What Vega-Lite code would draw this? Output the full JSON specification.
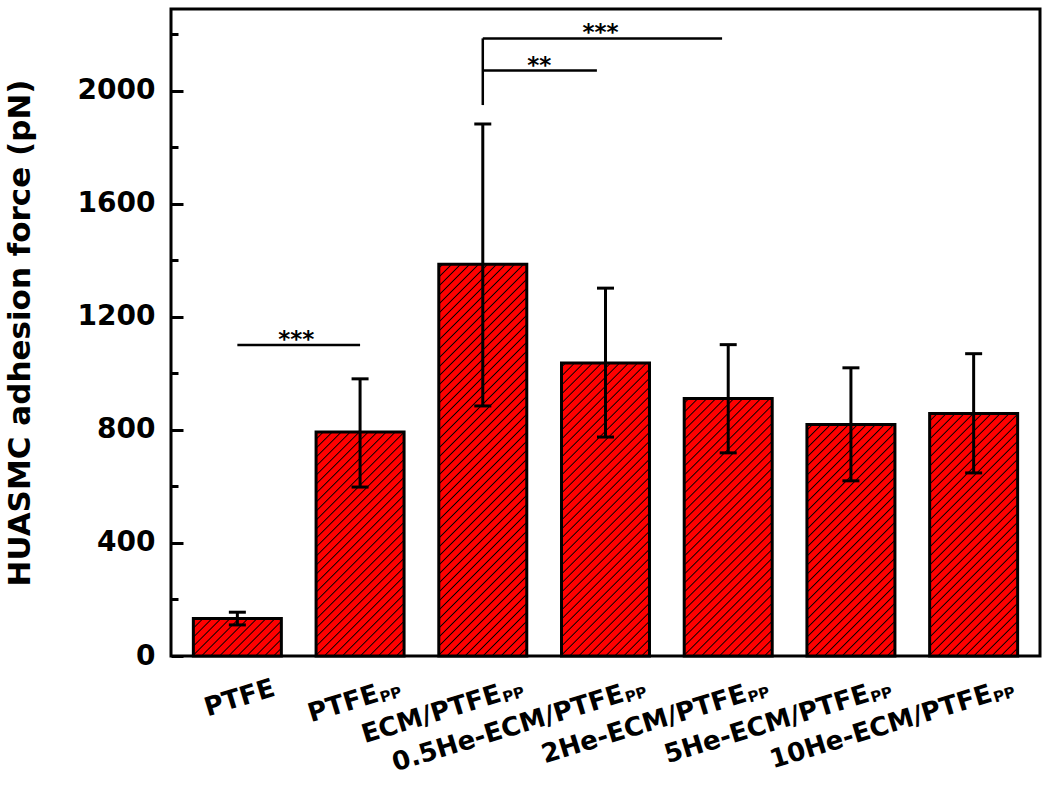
{
  "$schema": "https://vega.github.io/schema/vega-lite/v6.json",
  "width": 869,
  "height": 647,
  "autosize": {"type": "none"},
  "padding": {"left": 171, "top": 9, "right": 10, "bottom": 130},
  "background": "white",
  "config": {
    "view": {"stroke": "black", "strokeWidth": 3},
    "font": "DejaVu Sans"
  },
  "datasets": {
    "bars": [
      {"g": "PTFE", "sub": "", "i": 1, "m": 133, "lo": 110, "hi": 155},
      {"g": "PTFE", "sub": "PP", "i": 2, "m": 793, "lo": 598, "hi": 981},
      {"g": "ECM/PTFE", "sub": "PP", "i": 3, "m": 1387, "lo": 885, "hi": 1883},
      {"g": "0.5He-ECM/PTFE", "sub": "PP", "i": 4, "m": 1037, "lo": 775, "hi": 1302},
      {"g": "2He-ECM/PTFE", "sub": "PP", "i": 5, "m": 911, "lo": 719, "hi": 1102},
      {"g": "5He-ECM/PTFE", "sub": "PP", "i": 6, "m": 819, "lo": 620, "hi": 1020},
      {"g": "10He-ECM/PTFE", "sub": "PP", "i": 7, "m": 858, "lo": 648, "hi": 1070}
    ],
    "segs": [
      {"x": 1, "x2": 2, "y": 1101, "y2": 1101},
      {"x": 3, "x2": 3, "y": 1950, "y2": 2186},
      {"x": 3, "x2": 4.95, "y": 2186, "y2": 2186},
      {"x": 3, "x2": 3.93, "y": 2072, "y2": 2072}
    ],
    "stars": [
      {"x": 1.48, "y": 1101, "t": "***"},
      {"x": 3.96, "y": 2186, "t": "***"},
      {"x": 3.46, "y": 2072, "t": "**"}
    ]
  },
  "layer": [
    {
      "data": {"name": "bars"},
      "mark": {
        "type": "bar", "width": 88, "orient": "vertical", "strokeWidth": 0,
        "fill": {
          "gradient": "linear", "x1": 0, "y1": 0, "x2": 0.26802, "y2": 1.20458,
          "stops": [
            {"offset": 0, "color": "#f00"},
            {"offset": 0.0128, "color": "#f00"}, {"offset": 0.0154, "color": "#000"}, {"offset": 0.018, "color": "#f00"},
            {"offset": 0.0308, "color": "#f00"}, {"offset": 0.0334, "color": "#000"}, {"offset": 0.036, "color": "#f00"},
            {"offset": 0.0488, "color": "#f00"}, {"offset": 0.0514, "color": "#000"}, {"offset": 0.054, "color": "#f00"},
            {"offset": 0.0668, "color": "#f00"}, {"offset": 0.0694, "color": "#000"}, {"offset": 0.072, "color": "#f00"},
            {"offset": 0.0848, "color": "#f00"}, {"offset": 0.0874, "color": "#000"}, {"offset": 0.09, "color": "#f00"},
            {"offset": 0.1028, "color": "#f00"}, {"offset": 0.1054, "color": "#000"}, {"offset": 0.108, "color": "#f00"},
            {"offset": 0.1208, "color": "#f00"}, {"offset": 0.1234, "color": "#000"}, {"offset": 0.126, "color": "#f00"},
            {"offset": 0.1388, "color": "#f00"}, {"offset": 0.1414, "color": "#000"}, {"offset": 0.144, "color": "#f00"},
            {"offset": 0.1568, "color": "#f00"}, {"offset": 0.1594, "color": "#000"}, {"offset": 0.162, "color": "#f00"},
            {"offset": 0.1748, "color": "#f00"}, {"offset": 0.1774, "color": "#000"}, {"offset": 0.18, "color": "#f00"},
            {"offset": 0.1928, "color": "#f00"}, {"offset": 0.1954, "color": "#000"}, {"offset": 0.198, "color": "#f00"},
            {"offset": 0.2108, "color": "#f00"}, {"offset": 0.2134, "color": "#000"}, {"offset": 0.216, "color": "#f00"},
            {"offset": 0.2288, "color": "#f00"}, {"offset": 0.2314, "color": "#000"}, {"offset": 0.234, "color": "#f00"},
            {"offset": 0.2468, "color": "#f00"}, {"offset": 0.2494, "color": "#000"}, {"offset": 0.252, "color": "#f00"},
            {"offset": 0.2648, "color": "#f00"}, {"offset": 0.2674, "color": "#000"}, {"offset": 0.27, "color": "#f00"},
            {"offset": 0.2828, "color": "#f00"}, {"offset": 0.2854, "color": "#000"}, {"offset": 0.288, "color": "#f00"},
            {"offset": 0.3008, "color": "#f00"}, {"offset": 0.3034, "color": "#000"}, {"offset": 0.306, "color": "#f00"},
            {"offset": 0.3188, "color": "#f00"}, {"offset": 0.3214, "color": "#000"}, {"offset": 0.324, "color": "#f00"},
            {"offset": 0.3368, "color": "#f00"}, {"offset": 0.3394, "color": "#000"}, {"offset": 0.342, "color": "#f00"},
            {"offset": 0.3548, "color": "#f00"}, {"offset": 0.3574, "color": "#000"}, {"offset": 0.36, "color": "#f00"},
            {"offset": 0.3728, "color": "#f00"}, {"offset": 0.3754, "color": "#000"}, {"offset": 0.378, "color": "#f00"},
            {"offset": 0.3908, "color": "#f00"}, {"offset": 0.3934, "color": "#000"}, {"offset": 0.396, "color": "#f00"},
            {"offset": 0.4088, "color": "#f00"}, {"offset": 0.4114, "color": "#000"}, {"offset": 0.414, "color": "#f00"},
            {"offset": 0.4268, "color": "#f00"}, {"offset": 0.4294, "color": "#000"}, {"offset": 0.432, "color": "#f00"},
            {"offset": 0.4448, "color": "#f00"}, {"offset": 0.4474, "color": "#000"}, {"offset": 0.45, "color": "#f00"},
            {"offset": 0.4628, "color": "#f00"}, {"offset": 0.4654, "color": "#000"}, {"offset": 0.468, "color": "#f00"},
            {"offset": 0.4808, "color": "#f00"}, {"offset": 0.4834, "color": "#000"}, {"offset": 0.486, "color": "#f00"},
            {"offset": 0.4988, "color": "#f00"}, {"offset": 0.5014, "color": "#000"}, {"offset": 0.504, "color": "#f00"},
            {"offset": 0.5168, "color": "#f00"}, {"offset": 0.5194, "color": "#000"}, {"offset": 0.522, "color": "#f00"},
            {"offset": 0.5348, "color": "#f00"}, {"offset": 0.5374, "color": "#000"}, {"offset": 0.54, "color": "#f00"},
            {"offset": 0.5528, "color": "#f00"}, {"offset": 0.5554, "color": "#000"}, {"offset": 0.558, "color": "#f00"},
            {"offset": 0.5708, "color": "#f00"}, {"offset": 0.5734, "color": "#000"}, {"offset": 0.576, "color": "#f00"},
            {"offset": 0.5888, "color": "#f00"}, {"offset": 0.5914, "color": "#000"}, {"offset": 0.594, "color": "#f00"},
            {"offset": 0.6068, "color": "#f00"}, {"offset": 0.6094, "color": "#000"}, {"offset": 0.612, "color": "#f00"},
            {"offset": 0.6248, "color": "#f00"}, {"offset": 0.6274, "color": "#000"}, {"offset": 0.63, "color": "#f00"},
            {"offset": 0.6428, "color": "#f00"}, {"offset": 0.6454, "color": "#000"}, {"offset": 0.648, "color": "#f00"},
            {"offset": 0.6608, "color": "#f00"}, {"offset": 0.6634, "color": "#000"}, {"offset": 0.666, "color": "#f00"},
            {"offset": 0.6788, "color": "#f00"}, {"offset": 0.6814, "color": "#000"}, {"offset": 0.684, "color": "#f00"},
            {"offset": 0.6968, "color": "#f00"}, {"offset": 0.6994, "color": "#000"}, {"offset": 0.702, "color": "#f00"},
            {"offset": 0.7148, "color": "#f00"}, {"offset": 0.7174, "color": "#000"}, {"offset": 0.72, "color": "#f00"},
            {"offset": 0.7328, "color": "#f00"}, {"offset": 0.7354, "color": "#000"}, {"offset": 0.738, "color": "#f00"},
            {"offset": 0.7508, "color": "#f00"}, {"offset": 0.7534, "color": "#000"}, {"offset": 0.756, "color": "#f00"},
            {"offset": 0.7688, "color": "#f00"}, {"offset": 0.7714, "color": "#000"}, {"offset": 0.774, "color": "#f00"},
            {"offset": 0.7868, "color": "#f00"}, {"offset": 0.7894, "color": "#000"}, {"offset": 0.792, "color": "#f00"},
            {"offset": 0.8048, "color": "#f00"}, {"offset": 0.8074, "color": "#000"}, {"offset": 0.81, "color": "#f00"},
            {"offset": 0.8228, "color": "#f00"}, {"offset": 0.8254, "color": "#000"}, {"offset": 0.828, "color": "#f00"},
            {"offset": 0.8408, "color": "#f00"}, {"offset": 0.8434, "color": "#000"}, {"offset": 0.846, "color": "#f00"},
            {"offset": 0.8588, "color": "#f00"}, {"offset": 0.8614, "color": "#000"}, {"offset": 0.864, "color": "#f00"},
            {"offset": 0.8768, "color": "#f00"}, {"offset": 0.8794, "color": "#000"}, {"offset": 0.882, "color": "#f00"},
            {"offset": 0.8948, "color": "#f00"}, {"offset": 0.8974, "color": "#000"}, {"offset": 0.9, "color": "#f00"},
            {"offset": 0.9128, "color": "#f00"}, {"offset": 0.9154, "color": "#000"}, {"offset": 0.918, "color": "#f00"},
            {"offset": 0.9308, "color": "#f00"}, {"offset": 0.9334, "color": "#000"}, {"offset": 0.936, "color": "#f00"},
            {"offset": 0.9488, "color": "#f00"}, {"offset": 0.9514, "color": "#000"}, {"offset": 0.954, "color": "#f00"},
            {"offset": 0.9668, "color": "#f00"}, {"offset": 0.9694, "color": "#000"}, {"offset": 0.972, "color": "#f00"},
            {"offset": 1, "color": "#f00"}
          ]
        }
      },
      "encoding": {
        "x": {"field": "i", "type": "quantitative", "scale": {"domain": [0.5, 7.5], "nice": false, "zero": false}, "axis": null},
        "y": {"datum": 0, "type": "quantitative", "scale": {"domain": [0, 2290], "nice": false, "zero": false},
          "axis": {"orient": "left", "values": [200, 600, 1000, 1400, 1800, 2200], "tickSize": -7, "tickWidth": 3, "tickColor": "black", "labels": false, "domain": false, "grid": false, "title": null}},
        "y2": {"datum": 1400}
      }
    },
    {
      "data": {"name": "bars"},
      "mark": {"type": "bar", "width": 93, "orient": "vertical", "fill": "white", "strokeWidth": 0},
      "encoding": {
        "x": {"field": "i", "type": "quantitative", "axis": null},
        "y": {"field": "m", "type": "quantitative", "axis": null},
        "y2": {"datum": 1415}
      }
    },
    {
      "data": {"name": "bars"},
      "mark": {"type": "bar", "width": 88, "orient": "vertical", "fillOpacity": 0, "stroke": "black", "strokeWidth": 3},
      "encoding": {
        "x": {"field": "i", "type": "quantitative", "axis": null},
        "y": {"field": "m", "type": "quantitative",
          "axis": {"orient": "left", "values": [0, 400, 800, 1200, 1600, 2000], "format": "d", "tickSize": -12, "tickWidth": 3, "tickColor": "black",
            "domain": false, "grid": false, "labelPadding": 28, "labelFont": "DejaVu Sans", "labelFontWeight": "bold", "labelFontSize": 28, "labelColor": "black",
            "title": "HUASMC adhesion force (pN)", "titleFont": "DejaVu Sans", "titleFontWeight": "bold", "titleFontSize": 31, "titleColor": "black", "titlePadding": 41}}
      }
    },
    {
      "data": {"name": "bars"},
      "mark": {"type": "rule", "color": "black", "strokeWidth": 3},
      "encoding": {
        "x": {"field": "i", "type": "quantitative", "axis": null},
        "y": {"field": "lo", "type": "quantitative", "axis": null},
        "y2": {"field": "hi"}
      }
    },
    {
      "data": {"name": "bars"},
      "mark": {"type": "tick", "orient": "horizontal", "size": 17, "thickness": 3, "color": "black", "opacity": 1},
      "encoding": {
        "x": {"field": "i", "type": "quantitative", "axis": null},
        "y": {"field": "hi", "type": "quantitative", "axis": null}
      }
    },
    {
      "data": {"name": "bars"},
      "mark": {"type": "tick", "orient": "horizontal", "size": 17, "thickness": 3, "color": "black", "opacity": 1},
      "encoding": {
        "x": {"field": "i", "type": "quantitative", "axis": null},
        "y": {"field": "lo", "type": "quantitative", "axis": null}
      }
    },
    {
      "data": {"name": "segs"},
      "mark": {"type": "rule", "color": "black", "strokeWidth": 2.5},
      "encoding": {
        "x": {"field": "x", "type": "quantitative", "axis": null},
        "x2": {"field": "x2"},
        "y": {"field": "y", "type": "quantitative", "axis": null},
        "y2": {"field": "y2"}
      }
    },
    {
      "data": {"name": "stars"},
      "mark": {"type": "text", "font": "DejaVu Sans", "fontWeight": "bold", "fontSize": 23, "align": "center", "baseline": "alphabetic", "dy": 2, "color": "black"},
      "encoding": {
        "x": {"field": "x", "type": "quantitative", "axis": null},
        "y": {"field": "y", "type": "quantitative", "axis": null},
        "text": {"field": "t"}
      }
    },
    {
      "data": {"name": "bars"},
      "transform": [{"filter": "datum.sub == ''"}],
      "mark": {"type": "text", "font": "DejaVu Sans", "fontWeight": "bold", "fontSize": 26, "angle": -17, "align": "right", "baseline": "alphabetic", "dx": 26, "dy": 49, "color": "black"},
      "encoding": {
        "x": {"field": "i", "type": "quantitative", "axis": null},
        "y": {"datum": 0, "type": "quantitative", "axis": null},
        "text": {"field": "g"}
      }
    },
    {
      "data": {"name": "bars"},
      "transform": [{"filter": "datum.sub != ''"}],
      "mark": {"type": "text", "font": "DejaVu Sans", "fontWeight": "bold", "fontSize": 26, "angle": -17, "align": "right", "baseline": "alphabetic", "dx": 6, "dy": 49, "color": "black"},
      "encoding": {
        "x": {"field": "i", "type": "quantitative", "axis": null},
        "y": {"datum": 0, "type": "quantitative", "axis": null},
        "text": {"field": "g"}
      }
    },
    {
      "data": {"name": "bars"},
      "transform": [{"filter": "datum.sub != ''"}],
      "mark": {"type": "text", "font": "DejaVu Sans", "fontWeight": "bold", "fontSize": 15, "angle": -17, "align": "left", "baseline": "alphabetic", "dx": 7, "dy": 51, "color": "black"},
      "encoding": {
        "x": {"field": "i", "type": "quantitative", "axis": null},
        "y": {"datum": 0, "type": "quantitative", "axis": null},
        "text": {"field": "sub"}
      }
    }
  ],
  "resolve": {"axis": {"y": "independent"}}
}
